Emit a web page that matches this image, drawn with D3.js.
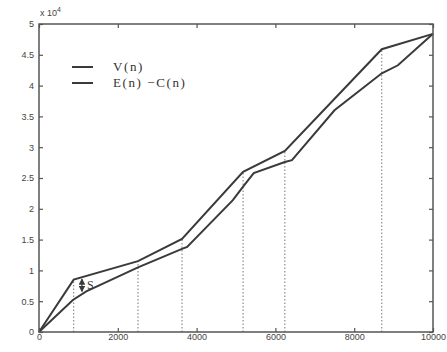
<!DOCTYPE html>
<html>
<head>
<meta charset="utf-8">
<script src="https://cdn.jsdelivr.net/npm/d3@7"></script>
<style>
  body { margin: 0; background: #fff; }
  svg { display: block; }
</style>
</head>
<body>
<svg id="chart" width="447" height="352"></svg>
<script>
// values are in units of 10^4
const vN = [0, 880, 2513, 3630, 5180, 6240, 8700, 10000];
const vVal = [0, 0.85, 1.15, 1.51, 2.6, 2.94, 4.59, 4.84];

const ecN = [0, 860, 1200, 2513, 3630, 3760, 4920, 5180, 5450, 6240, 6420, 7500, 8700, 9110, 10000];
const ecVal = [0, 0.52, 0.66, 1.05, 1.35, 1.38, 2.14, 2.36, 2.58, 2.76, 2.79, 3.6, 4.2, 4.33, 4.84];

// dotted drop lines run from the axis up to V(n)
const dropN = [880, 2513, 3630, 5180, 6240, 8700];

const xTicks = [0, 2000, 4000, 6000, 8000, 10000];
const yTicks = [0, 0.5, 1, 1.5, 2, 2.5, 3, 3.5, 4, 4.5, 5];

const svg = d3.select("#chart");
const margin = { top: 24, right: 14, bottom: 20, left: 39 };
const width = +svg.attr("width");
const height = +svg.attr("height");
const innerWidth = width - margin.left - margin.right;
const innerHeight = height - margin.top - margin.bottom;

const g = svg.append("g").attr("transform", `translate(${margin.left},${margin.top})`);

const x = d3.scaleLinear().domain([0, 10000]).range([0, innerWidth]);
const y = d3.scaleLinear().domain([0, 5]).range([innerHeight, 0]);

const ink = "#3a3a3a";
const sans = "Liberation Sans, Arial, sans-serif";
const serif = "Liberation Serif, Times New Roman, serif";

// drop lines
g.selectAll("line.drop")
  .data(dropN)
  .join("line")
  .attr("class", "drop")
  .attr("x1", d => x(d)).attr("x2", d => x(d))
  .attr("y1", innerHeight)
  .attr("y2", d => y(vVal[vN.indexOf(d)]))
  .attr("stroke", "#777")
  .attr("stroke-width", 1)
  .attr("stroke-dasharray", "1.5 2");

const line = d3.line().x(d => x(d[0])).y(d => y(d[1]));

g.append("path")
  .datum(vN.map((n, i) => [n, vVal[i]]))
  .attr("fill", "none").attr("stroke", ink).attr("stroke-width", 2)
  .attr("d", line);

g.append("path")
  .datum(ecN.map((n, i) => [n, ecVal[i]]))
  .attr("fill", "none").attr("stroke", ink).attr("stroke-width", 2)
  .attr("d", line);

// frame
g.append("rect")
  .attr("width", innerWidth).attr("height", innerHeight)
  .attr("fill", "none").attr("stroke", "#555").attr("stroke-width", 1.5);

// axes with inward ticks (matlab style)
const xAxis = g.append("g")
  .attr("transform", `translate(0,${innerHeight})`)
  .call(d3.axisBottom(x).tickValues(xTicks).tickFormat(d3.format("d"))
    .tickSizeInner(-4).tickSizeOuter(0).tickPadding(2));
const xTop = g.append("g")
  .call(d3.axisTop(x).tickValues(xTicks).tickSizeInner(-4).tickSizeOuter(0).tickFormat(""));
const yAxis = g.append("g")
  .call(d3.axisLeft(y).tickValues(yTicks).tickFormat(d => String(d))
    .tickSizeInner(-4).tickSizeOuter(0).tickPadding(5));
const yRight = g.append("g")
  .attr("transform", `translate(${innerWidth},0)`)
  .call(d3.axisRight(y).tickValues(yTicks).tickSizeInner(-4).tickSizeOuter(0).tickFormat(""));

[xAxis, xTop, yAxis, yRight].forEach(a => {
  a.attr("font-family", sans).attr("font-size", 9);
  a.select(".domain").remove();
  a.selectAll("line").attr("stroke", "#555").attr("stroke-width", 1.2);
  a.selectAll("text").attr("fill", "#444");
});

// exponent label
const expo = g.append("text")
  .attr("x", 1).attr("y", -8)
  .attr("font-family", sans).attr("font-size", 9).attr("fill", "#444");
expo.append("tspan").text("x 10");
expo.append("tspan").attr("dy", -4).attr("font-size", 7).text("4");

// S marker: double arrow between the curves
const sN = 1090;
const sTop = d3.scaleLinear().domain([vN[1], vN[2]]).range([vVal[1], vVal[2]])(sN);
const sBot = d3.scaleLinear().domain([ecN[2], ecN[3]]).range([ecVal[2], ecVal[3]])(sN);
svg.append("defs").append("marker")
  .attr("id", "ah").attr("viewBox", "0 0 6 6").attr("refX", 5).attr("refY", 3)
  .attr("markerWidth", 5).attr("markerHeight", 5).attr("orient", "auto-start-reverse")
  .append("path").attr("d", "M0,0L6,3L0,6Z").attr("fill", ink);
g.append("line")
  .attr("x1", x(sN)).attr("x2", x(sN))
  .attr("y1", y(sTop) + 2).attr("y2", y(sBot) - 2)
  .attr("stroke", ink).attr("stroke-width", 1.3)
  .attr("marker-start", "url(#ah)").attr("marker-end", "url(#ah)");
g.append("text")
  .attr("x", x(sN) + 5).attr("y", (y(sTop) + y(sBot)) / 2 + 4)
  .attr("font-family", serif).attr("font-size", 12).attr("fill", ink)
  .text("S");

// legend
const legend = [
  { label: "V(n)" },
  { label: "E(n) \u2212C(n)" }
];
const lg = g.append("g").attr("transform", "translate(33,43)");
legend.forEach((d, i) => {
  lg.append("line")
    .attr("x1", 0).attr("x2", 21).attr("y1", i * 16).attr("y2", i * 16)
    .attr("stroke", ink).attr("stroke-width", 2);
  lg.append("text")
    .attr("x", 41).attr("y", i * 16 + 4)
    .attr("font-family", serif).attr("font-size", 13).attr("letter-spacing", 1.6)
    .attr("fill", "#333")
    .text(d.label);
});
</script>
</body>
</html>
